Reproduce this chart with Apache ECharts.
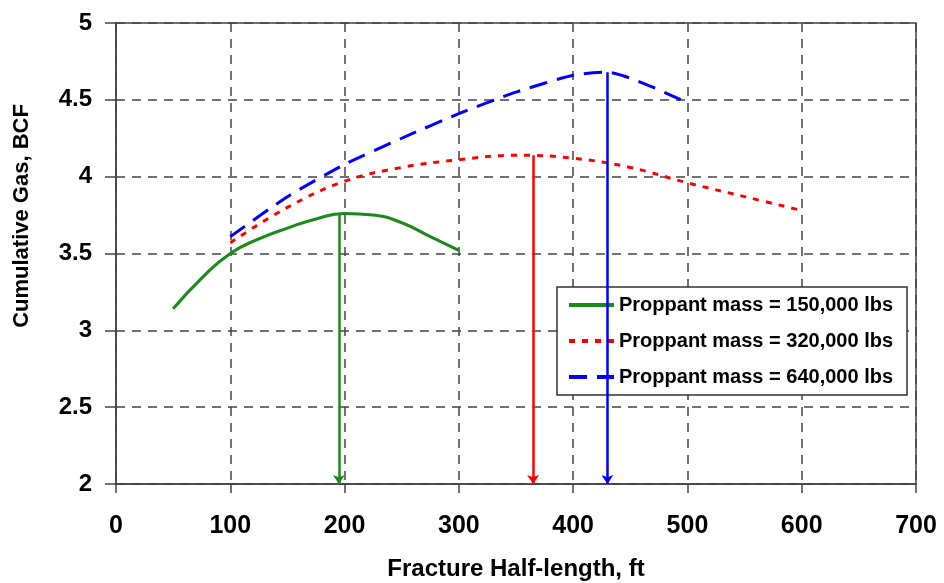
<!DOCTYPE html>
<html>
<head>
<meta charset="utf-8">
<script src="https://cdn.jsdelivr.net/npm/echarts@6/dist/echarts.min.js"></script>
<style>html,body{margin:0;padding:0;background:#fff;}#c{width:944px;height:583px;}</style>
</head>
<body>
<div id="c"></div>
<script>
// Data
const seriesNames = ['Proppant mass = 150,000 lbs', 'Proppant mass = 320,000 lbs', 'Proppant mass = 640,000 lbs'];
const green150 = [[50,3.14],[75,3.34],[100,3.50],[125,3.595],[150,3.665],[175,3.725],[200,3.76],[225,3.75],[250,3.70],[275,3.61],[300,3.52]];
const red320 = [[100,3.57],[150,3.80],[200,3.97],[250,4.06],[300,4.11],[350,4.14],[400,4.12],[450,4.06],[500,3.96],[550,3.87],[600,3.78]];
const blue640 = [[100,3.61],[150,3.87],[200,4.08],[250,4.25],[300,4.41],[350,4.55],[400,4.66],[430,4.68],[500,4.48]];
// Optimum arrows: [x, top value]
const optimumArrows = [[195,3.76],[365,4.14],[430,4.68]];
const colors = ['#1a8a1a', '#ff0000', '#0000ff'];
const xTicks = [0,100,200,300,400,500,600,700];
const yTicks = [2,2.5,3,3.5,4,4.5,5];

const FONT = "'Liberation Sans', Arial, sans-serif";
const chart = echarts.init(document.getElementById('c'));
const lineTypes = ['solid', [6,7], [18,10]];
const smoothness = [0.5, 0.4, 0.2];
const datasets = [green150, red320, blue640];

const series = datasets.map((d, i) => ({
  name: seriesNames[i],
  type: 'line',
  data: d,
  smooth: smoothness[i],
  showSymbol: false,
  symbol: 'none',
  z: 3,
  lineStyle: { color: colors[i], width: 3, type: lineTypes[i] },
  itemStyle: { color: colors[i] }
}));
optimumArrows.forEach((a, i) => {
  series.push({
    type: 'lines',
    coordinateSystem: 'cartesian2d',
    z: 10,
    symbol: ['none', 'arrow'],
    symbolSize: 9,
    silent: true,
    lineStyle: { color: colors[i], width: 2.5, type: 'solid', opacity: 1 },
    data: [{ coords: [[a[0], a[1]], [a[0], yTicks[0]]] }]
  });
});

chart.setOption({
  animation: false,
  backgroundColor: '#fff',
  textStyle: { fontFamily: FONT },
  grid: { left: 116, top: 23, right: 28, bottom: 99, outerBoundsMode: 'none', show: true, borderColor: '#444', borderWidth: 1.5, backgroundColor: 'transparent' },
  xAxis: {
    type: 'value', min: xTicks[0], max: xTicks[xTicks.length-1], interval: 100,
    name: 'Fracture Half-length, ft', nameLocation: 'middle', nameGap: 73,
    nameTextStyle: { fontFamily: FONT, fontWeight: 'bold', fontSize: 24, color: '#000' },
    axisLine: { show: true, lineStyle: { color: '#444', width: 1.5 } },
    axisTick: { show: true, length: 9, lineStyle: { color: '#444', width: 1.5 } },
    axisLabel: { fontFamily: FONT, fontWeight: 'bold', fontSize: 25, color: '#000', margin: 30 },
    splitLine: { show: true, lineStyle: { color: '#444', width: 1.5, type: [9,7] } }
  },
  yAxis: {
    type: 'value', min: yTicks[0], max: yTicks[yTicks.length-1], interval: 0.5,
    axisLine: { show: true, lineStyle: { color: '#444', width: 1.5 } },
    axisTick: { show: true, length: 11, lineStyle: { color: '#444', width: 1.5 } },
    axisLabel: { fontFamily: FONT, fontWeight: 'bold', fontSize: 24, color: '#000', margin: 24 },
    splitLine: { show: true, lineStyle: { color: '#444', width: 1.5, type: [9,7] } }
  },
  legend: {
    data: seriesNames,
    orient: 'vertical',
    left: 557, top: 287,
    padding: [8, 14, 8, 10],
    itemGap: 16,
    itemWidth: 45, itemHeight: 14,
    backgroundColor: '#fff',
    borderColor: '#333', borderWidth: 1.5, borderRadius: 0,
    itemStyle: { opacity: 0 },
    lineStyle: { width: 4 },
    textStyle: { fontFamily: FONT, fontWeight: 'bold', fontSize: 20, color: '#000', lineHeight: 20 },
    z: 5
  },
  graphic: [{
    type: 'text', x: 22, y: 216, rotation: Math.PI / 2,
    style: { text: 'Cumulative Gas, BCF', font: "bold 22px 'Liberation Sans', Arial, sans-serif", fill: '#000', align: 'center', verticalAlign: 'middle' }
  }],
  series: series
});
</script>
</body>
</html>
